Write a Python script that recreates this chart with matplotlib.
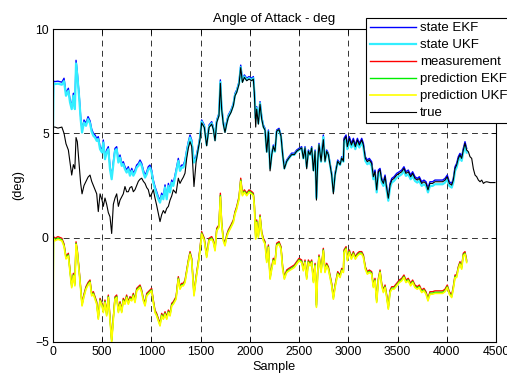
import matplotlib
matplotlib.use("Agg")
import matplotlib.pyplot as plt

plt.rcParams['font.family'] = ['Liberation Sans', 'DejaVu Sans']

# ---- segment A (0 - 1477) ----
sample_a = [0, 5, 20, 50, 90, 112, 132, 156, 173, 190,
            207, 222, 234, 247, 267, 281, 295, 315, 335, 356,
            376, 393, 410, 427, 444, 460, 478, 498, 511, 528,
            545, 562, 579, 596, 613, 630, 647, 664, 681, 698,
            714, 731, 748, 765, 782, 800, 816, 833, 850, 867,
            884, 901, 918, 935, 952, 968, 985, 1002, 1019, 1036,
            1053, 1070, 1087, 1104, 1121, 1138, 1155, 1172, 1189, 1206,
            1222, 1250, 1273, 1290, 1307, 1324, 1341, 1358, 1375, 1392,
            1409, 1432, 1453, 1477]
true_a = [5.3, 5.3, 5.3, 5.25, 5.3, 5.0, 4.5, 4.2, 3.6, 3.0,
          3.5, 3.3, 4.8, 4.6, 3.4, 2.6, 2.1, 2.5, 2.7, 2.9,
          3.0, 2.7, 2.5, 2.3, 2.1, 1.25, 2.1, 1.8, 1.5, 1.9,
          1.6, 1.2, 1.0, 0.2, 1.6, 1.9, 2.1, 1.5, 1.8, 1.95,
          2.1, 2.45, 2.2, 2.2, 2.4, 2.45, 2.2, 2.3, 2.5, 2.7,
          2.8, 2.85, 2.7, 2.6, 2.4, 2.3, 1.96, 2.1, 2.3, 1.9,
          1.55, 1.17, 0.77, 1.1, 1.3, 1.17, 1.4, 1.5, 1.8, 2.0,
          2.29, 2.13, 2.85, 2.6, 2.76, 2.9, 3.09, 3.8, 4.3, 4.6,
          4.37, 2.45, 3.6, 4.3]
ekf_a = [5.3, 7.5, 7.48, 7.5, 7.45, 7.64, 6.92, 7.16, 6.6, 6.28,
         6.92, 6.28, 8.5, 7.9, 6.76, 5.8, 5.16, 5.64, 5.48, 5.8,
         5.6, 5.2, 5.0, 4.92, 4.76, 4.84, 4.36, 4.2, 4.68, 3.88,
         4.2, 4.36, 3.4, 2.92, 3.64, 4.28, 4.36, 3.72, 3.96, 3.56,
         3.64, 3.4, 3.24, 3.4, 3.09, 3.32, 3.09, 3.24, 3.48, 3.56,
         3.72, 3.56, 3.24, 3.0, 3.16, 3.4, 3.48, 3.24, 2.76, 2.45,
         2.2, 1.96, 1.8, 2.13, 1.96, 2.53, 1.96, 2.6, 2.29, 2.76,
         2.6, 3.24, 3.8, 3.32, 3.48, 3.48, 3.72, 4.2, 4.6, 4.92,
         4.68, 3.72, 3.88, 4.4]
ukf_a = [5.3, 7.4, 7.36, 7.38, 7.33, 7.5, 6.8, 7.04, 6.48, 6.16,
         6.8, 6.16, 8.35, 7.78, 6.64, 5.68, 5.04, 5.52, 5.36, 5.68,
         5.48, 5.08, 4.88, 4.8, 4.64, 4.72, 4.24, 4.08, 4.56, 3.76,
         4.08, 4.24, 3.28, 2.8, 3.52, 4.16, 4.24, 3.6, 3.84, 3.44,
         3.52, 3.28, 3.12, 3.28, 2.97, 3.2, 2.97, 3.12, 3.36, 3.44,
         3.6, 3.44, 3.12, 2.88, 3.04, 3.28, 3.36, 3.12, 2.64, 2.33,
         2.08, 1.84, 1.68, 2.01, 1.84, 2.41, 1.84, 2.48, 2.17, 2.64,
         2.48, 3.12, 3.68, 3.2, 3.36, 3.36, 3.6, 4.08, 4.48, 4.8,
         4.56, 3.6, 3.76, 4.28]
meas_a = [0.05, 0.05, -0.03, 0.05, -0.03, -0.3, -0.9, -0.75, -1.55, -2.27,
          -1.71, -2.19, -0.2, -0.6, -1.6, -2.4, -3.15, -2.7, -2.35, -2.15,
          -2.03, -2.67, -2.59, -2.83, -3.07, -3.79, -2.91, -3.15, -3.47, -2.99,
          -3.63, -2.75, -3.79, -4.9, -3.79, -2.83, -2.75, -3.47, -3.07, -3.47,
          -2.91, -3.07, -2.75, -3.07, -2.83, -2.91, -2.67, -2.99, -2.43, -2.35,
          -2.27, -2.51, -2.91, -3.15, -2.67, -2.59, -2.51, -2.43, -2.99, -3.47,
          -3.63, -3.87, -4.11, -3.63, -3.79, -3.55, -3.79, -3.47, -3.63, -3.15,
          -3.07, -2.83, -1.87, -2.35, -2.19, -2.19, -2.03, -1.55, -1.07, -0.67,
          -0.99, -2.67, -1.87, -1.1]
pekf_a = [-4.3, 0.0, -0.1, -0.02, -0.1, -0.37, -0.97, -0.82, -1.62, -2.34,
          -1.78, -2.26, -0.27, -0.67, -1.67, -2.47, -3.22, -2.77, -2.42, -2.22,
          -2.1, -2.74, -2.66, -2.9, -3.14, -3.86, -2.98, -3.22, -3.54, -3.06,
          -3.7, -2.82, -3.86, -4.95, -3.86, -2.9, -2.82, -3.54, -3.14, -3.54,
          -2.98, -3.14, -2.82, -3.14, -2.9, -2.98, -2.74, -3.06, -2.5, -2.42,
          -2.34, -2.58, -2.98, -3.22, -2.74, -2.66, -2.58, -2.5, -3.06, -3.54,
          -3.7, -3.94, -4.18, -3.7, -3.86, -3.62, -3.86, -3.54, -3.7, -3.22,
          -3.14, -2.9, -1.94, -2.42, -2.26, -2.26, -2.1, -1.62, -1.14, -0.74,
          -1.06, -2.74, -1.94, -1.17]
pukf_a = [-4.3, -0.05, -0.15, -0.08, -0.15, -0.42, -1.02, -0.88, -1.67, -2.4,
          -1.83, -2.31, -0.32, -0.72, -1.72, -2.52, -3.27, -2.82, -2.47, -2.27,
          -2.15, -2.79, -2.71, -2.95, -3.19, -3.91, -3.03, -3.27, -3.59, -3.11,
          -3.75, -2.87, -3.91, -5.0, -3.91, -2.95, -2.87, -3.59, -3.19, -3.59,
          -3.03, -3.19, -2.87, -3.19, -2.95, -3.03, -2.79, -3.11, -2.55, -2.47,
          -2.39, -2.63, -3.03, -3.27, -2.79, -2.71, -2.63, -2.55, -3.11, -3.59,
          -3.75, -3.99, -4.23, -3.75, -3.91, -3.67, -3.91, -3.59, -3.75, -3.27,
          -3.19, -2.95, -1.99, -2.47, -2.31, -2.31, -2.15, -1.67, -1.19, -0.79,
          -1.11, -2.79, -1.99, -1.22]

# ---- segment B (1493 - 2950) ----
sample_b = [1493, 1510, 1537, 1561, 1585, 1612, 1629, 1646, 1663, 1686,
            1700, 1713, 1730, 1747, 1764, 1781, 1808, 1832, 1849, 1866,
            1890, 1907, 1924, 1944, 1968, 1991, 2018, 2035, 2045, 2059,
            2069, 2086, 2103, 2120, 2137, 2154, 2171, 2188, 2205, 2222,
            2238, 2255, 2272, 2296, 2316, 2333, 2350, 2374, 2397, 2424,
            2451, 2475, 2499, 2526, 2543, 2560, 2577, 2594, 2611, 2628,
            2645, 2662, 2676, 2689, 2702, 2723, 2746, 2763, 2780, 2797,
            2814, 2831, 2848, 2865, 2892, 2916, 2933, 2950]
true_b = [4.7, 5.5, 5.28, 4.4, 5.28, 5.44, 5.18, 4.64, 5.52, 5.84,
          7.4, 6.16, 5.44, 5.04, 5.44, 5.76, 6.0, 6.32, 6.8, 6.96,
          7.36, 8.15, 7.44, 7.68, 7.52, 7.6, 7.52, 7.6, 6.96, 5.3,
          6.16, 5.44, 6.4, 5.68, 5.3, 5.15, 4.1, 5.08, 3.2, 3.98,
          4.38, 4.14, 5.1, 5.18, 4.86, 3.98, 3.3, 3.66, 3.82, 3.98,
          3.98, 4.14, 4.22, 4.3, 3.8, 4.3, 3.3, 4.14, 3.98, 4.3,
          3.2, 4.14, 1.8, 3.66, 4.46, 3.66, 4.7, 3.66, 4.14, 3.98,
          3.48, 3.0, 2.1, 3.0, 3.66, 3.5, 3.82, 3.66]
ekf_b = [4.84, 5.64, 5.4, 4.52, 5.4, 5.56, 5.3, 4.76, 5.64, 5.96,
         7.56, 6.28, 5.56, 5.16, 5.56, 5.88, 6.12, 6.44, 6.92, 7.08,
         7.48, 8.27, 7.56, 7.8, 7.64, 7.72, 7.64, 7.72, 7.08, 5.8,
         6.28, 5.56, 6.52, 5.8, 5.4, 5.24, 4.2, 5.16, 3.4, 4.05,
         4.44, 4.2, 5.16, 5.24, 4.92, 4.05, 3.4, 3.72, 3.88, 4.05,
         4.05, 4.2, 4.28, 4.36, 3.88, 4.36, 3.48, 4.2, 4.05, 4.36,
         3.32, 4.2, 1.96, 3.72, 4.52, 3.72, 4.92, 3.72, 4.2, 4.05,
         3.56, 3.09, 2.29, 3.09, 3.72, 3.56, 3.88, 3.72]
ukf_b = [4.76, 5.56, 5.32, 4.44, 5.32, 5.48, 5.22, 4.68, 5.56, 5.88,
         7.46, 6.2, 5.48, 5.08, 5.48, 5.8, 6.04, 6.36, 6.84, 7.0,
         7.4, 8.17, 7.48, 7.72, 7.56, 7.64, 7.56, 7.64, 7.0, 5.72,
         6.2, 5.48, 6.44, 5.72, 5.32, 5.16, 4.12, 5.08, 3.32, 3.97,
         4.36, 4.12, 5.08, 5.16, 4.84, 3.97, 3.32, 3.64, 3.8, 3.97,
         3.97, 4.12, 4.2, 4.28, 3.8, 4.28, 3.4, 4.12, 3.97, 4.28,
         3.24, 4.12, 1.9, 3.64, 4.44, 3.64, 4.82, 3.64, 4.12, 3.97,
         3.48, 3.01, 2.21, 3.01, 3.64, 3.48, 3.8, 3.64]
meas_b = [-0.51, 0.29, -0.03, -0.83, -0.03, 0.05, -0.11, -0.51, 0.45, 0.61,
          2.13, 0.77, -0.03, -0.27, 0.13, 0.37, 0.61, 0.85, 1.25, 1.49,
          1.97, 2.85, 2.13, 2.29, 2.13, 2.29, 2.21, 2.13, 1.65, 0.05,
          0.85, 0.13, 1.09, 0.29, -0.03, -0.19, -1.07, -0.35, -1.87, -1.39,
          -0.99, -1.15, -0.27, -0.19, -0.43, -1.39, -1.87, -1.55, -1.47, -1.39,
          -1.31, -1.15, -0.99, -1.07, -1.47, -1.07, -1.87, -1.07, -1.23, -1.07,
          -2.03, -1.23, -3.22, -1.55, -0.83, -1.55, -0.51, -1.55, -1.23, -1.39,
          -1.79, -2.19, -2.83, -2.27, -1.63, -1.79, -1.47, -1.55]
pekf_b = [-0.58, 0.22, -0.1, -0.9, -0.1, -0.02, -0.18, -0.58, 0.38, 0.54,
          2.02, 0.7, -0.1, -0.34, 0.06, 0.3, 0.54, 0.78, 1.18, 1.42,
          1.9, 2.76, 2.06, 2.22, 2.06, 2.22, 2.14, 2.06, 1.58, -0.02,
          0.78, 0.06, 1.02, 0.22, -0.1, -0.26, -1.14, -0.42, -1.94, -1.46,
          -1.06, -1.22, -0.34, -0.26, -0.5, -1.46, -1.94, -1.62, -1.54, -1.46,
          -1.38, -1.22, -1.06, -1.14, -1.54, -1.14, -1.94, -1.14, -1.3, -1.14,
          -2.1, -1.3, -3.29, -1.62, -0.9, -1.62, -0.58, -1.62, -1.3, -1.46,
          -1.86, -2.26, -2.9, -2.34, -1.7, -1.86, -1.54, -1.62]
pukf_b = [-0.63, 0.17, -0.15, -0.95, -0.15, -0.07, -0.23, -0.63, 0.33, 0.49,
          1.95, 0.65, -0.15, -0.39, 0.01, 0.25, 0.49, 0.73, 1.13, 1.37,
          1.85, 2.7, 2.01, 2.17, 2.01, 2.17, 2.09, 2.01, 1.53, -0.07,
          0.73, 0.01, 0.97, 0.17, -0.15, -0.31, -1.19, -0.47, -1.99, -1.51,
          -1.11, -1.27, -0.39, -0.31, -0.55, -1.51, -1.99, -1.67, -1.59, -1.51,
          -1.43, -1.27, -1.11, -1.19, -1.59, -1.19, -1.99, -1.19, -1.35, -1.19,
          -2.15, -1.35, -3.34, -1.67, -0.95, -1.67, -0.63, -1.67, -1.35, -1.51,
          -1.91, -2.31, -2.95, -2.39, -1.75, -1.91, -1.59, -1.67]

# ---- segment C (2956 - 4202) ----
sample_c = [2956, 2977, 2990, 3010, 3031, 3051, 3071, 3092, 3112, 3136,
            3153, 3173, 3193, 3213, 3237, 3254, 3271, 3288, 3305, 3322,
            3339, 3356, 3373, 3390, 3406, 3424, 3441, 3464, 3491, 3518,
            3542, 3565, 3585, 3609, 3633, 3653, 3677, 3700, 3721, 3745,
            3768, 3789, 3809, 3829, 3856, 3880, 3904, 3931, 3958, 3982,
            4005, 4026, 4050, 4066, 4084, 4100, 4117, 4134, 4151, 4168,
            4185, 4202]
true_c = [4.68, 4.84, 4.36, 4.76, 4.44, 4.68, 4.36, 4.68, 4.44, 4.68,
          4.44, 3.8, 3.64, 3.72, 3.56, 2.92, 3.16, 2.29, 3.16, 3.24,
          2.76, 2.6, 2.92, 2.37, 1.89, 2.52, 2.76, 2.84, 3.0, 3.08,
          3.16, 3.32, 3.08, 3.16, 2.92, 3.08, 2.84, 2.76, 2.84, 2.6,
          2.68, 2.6, 2.29, 2.6, 2.6, 2.68, 2.68, 2.68, 2.68, 2.76,
          2.92, 2.6, 2.52, 2.76, 3.32, 3.48, 3.8, 3.96, 3.8, 4.2,
          4.52, 4.2]
ekf_c = [4.76, 4.92, 4.44, 4.84, 4.52, 4.76, 4.44, 4.76, 4.52, 4.76,
         4.52, 3.88, 3.72, 3.8, 3.64, 3.0, 3.24, 2.37, 3.24, 3.32,
         2.84, 2.68, 3.0, 2.45, 1.97, 2.6, 2.84, 2.92, 3.08, 3.16,
         3.24, 3.4, 3.16, 3.24, 3.0, 3.16, 2.92, 2.84, 2.92, 2.68,
         2.76, 2.68, 2.37, 2.68, 2.68, 2.76, 2.76, 2.76, 2.76, 2.84,
         3.0, 2.68, 2.6, 2.84, 3.4, 3.56, 3.88, 4.04, 3.88, 4.28,
         4.6, 4.28]
ukf_c = [4.56, 4.72, 4.24, 4.64, 4.32, 4.56, 4.24, 4.56, 4.32, 4.56,
         4.32, 3.68, 3.52, 3.6, 3.44, 2.8, 3.04, 2.17, 3.04, 3.12,
         2.64, 2.48, 2.8, 2.25, 1.77, 2.4, 2.64, 2.72, 2.88, 2.96,
         3.04, 3.2, 2.96, 3.04, 2.8, 2.96, 2.72, 2.64, 2.72, 2.48,
         2.56, 2.48, 2.17, 2.48, 2.48, 2.56, 2.56, 2.56, 2.56, 2.64,
         2.8, 2.48, 2.4, 2.64, 3.2, 3.36, 3.68, 3.84, 3.68, 4.08,
         4.4, 4.08]
meas_c = [-0.59, -0.43, -0.99, -0.59, -0.91, -0.67, -0.91, -0.75, -0.67, -0.67,
          -0.83, -1.39, -1.63, -1.55, -1.63, -2.27, -1.95, -2.99, -1.95, -1.55,
          -2.19, -2.51, -2.27, -2.75, -3.31, -2.51, -2.35, -2.35, -2.19, -2.03,
          -1.95, -1.79, -2.03, -1.95, -2.19, -2.03, -2.27, -2.35, -2.27, -2.51,
          -2.43, -2.59, -2.91, -2.59, -2.59, -2.55, -2.55, -2.55, -2.55, -2.47,
          -2.27, -2.59, -2.75, -2.35, -1.79, -1.79, -1.39, -1.15, -1.39, -0.75,
          -0.67, -1.07]
pekf_c = [-0.66, -0.5, -1.06, -0.66, -0.98, -0.74, -0.98, -0.82, -0.74, -0.74,
          -0.9, -1.46, -1.7, -1.62, -1.7, -2.34, -2.02, -3.06, -2.02, -1.62,
          -2.26, -2.58, -2.34, -2.82, -3.38, -2.58, -2.42, -2.42, -2.26, -2.1,
          -2.02, -1.86, -2.1, -2.02, -2.26, -2.1, -2.34, -2.42, -2.34, -2.58,
          -2.5, -2.66, -2.98, -2.66, -2.66, -2.62, -2.62, -2.62, -2.62, -2.54,
          -2.34, -2.66, -2.82, -2.42, -1.86, -1.86, -1.46, -1.22, -1.46, -0.82,
          -0.74, -1.14]
pukf_c = [-0.71, -0.55, -1.11, -0.71, -1.03, -0.79, -1.03, -0.87, -0.79, -0.79,
          -0.95, -1.51, -1.75, -1.67, -1.75, -2.39, -2.07, -3.11, -2.07, -1.67,
          -2.31, -2.63, -2.39, -2.87, -3.43, -2.63, -2.47, -2.47, -2.31, -2.15,
          -2.07, -1.91, -2.15, -2.07, -2.31, -2.15, -2.39, -2.47, -2.39, -2.63,
          -2.55, -2.71, -3.03, -2.71, -2.71, -2.67, -2.67, -2.67, -2.67, -2.59,
          -2.39, -2.71, -2.87, -2.47, -1.91, -1.91, -1.51, -1.27, -1.51, -0.87,
          -0.79, -1.19]

# true signal continues after the filters stop
sample_tail = [4219, 4236, 4253, 4270, 4287, 4304, 4321, 4338, 4355, 4372,
               4389, 4406, 4440, 4490]
true_tail = [4.12, 3.88, 3.8, 3.3, 3.0, 2.92, 2.76, 2.68, 2.76, 2.6,
             2.66, 2.68, 2.64, 2.64]

sample = sample_a + sample_b + sample_c
state_ekf = ekf_a + ekf_b + ekf_c
state_ukf = ukf_a + ukf_b + ukf_c
measurement = meas_a + meas_b + meas_c
pred_ekf = pekf_a + pekf_b + pekf_c
pred_ukf = pukf_a + pukf_b + pukf_c
sample_true = sample + sample_tail
true_vals = true_a + true_b + true_c + true_tail

x_ticks = [0, 500, 1000, 1500, 2000, 2500, 3000, 3500, 4000, 4500]
y_ticks = [-5, 0, 5, 10]

fig = plt.figure(figsize=(5.07, 3.75), dpi=100)
ax = fig.add_axes([53/507, 1 - 342/375, (496 - 53)/507, (342 - 29)/375])

ax.plot(sample, state_ekf, color='#0000ff', lw=1.0, label='state EKF')
ax.plot(sample, state_ukf, color='#33eeff', lw=1.6, label='state UKF')
ax.plot(sample, measurement, color='#ff0000', lw=1.0, label='measurement')
ax.plot(sample, pred_ekf, color='#00ee00', lw=1.0, label='prediction EKF')
ax.plot(sample, pred_ukf, color='#ffff00', lw=1.2, label='prediction UKF')
ax.plot(sample_true, true_vals, color='black', lw=0.8, label='true')

ax.set_xlim(0, 4500)
ax.set_ylim(-5, 10)
ax.set_xticks(x_ticks)
ax.set_yticks(y_ticks)
ax.tick_params(direction='in', length=3.5, width=0.6, top=True, right=True,
               labelsize=8.8, pad=3)
for s in ax.spines.values():
    s.set_linewidth(0.8)
ax.grid(True, color='#333333', lw=0.7, linestyle=(0, (6, 4.5)))
ax.set_axisbelow(True)

ax.set_title('Angle of Attack - deg', fontsize=9.5, pad=5)
ax.set_xlabel('Sample', fontsize=9.2, labelpad=2)
ax.set_ylabel('(deg)', fontsize=9.2, labelpad=8)

leg = fig.legend(loc='upper left', bbox_to_anchor=(366/507, 1 - 18/375),
                 fontsize=9.5, frameon=True, fancybox=False, shadow=False,
                 handlelength=3.5, handletextpad=0.3, labelspacing=0.36,
                 borderpad=0.3, borderaxespad=0)
leg.get_frame().set_edgecolor('black')
leg.get_frame().set_linewidth(0.8)
leg.get_frame().set_alpha(1)

fig.savefig('out.png', dpi=100)
